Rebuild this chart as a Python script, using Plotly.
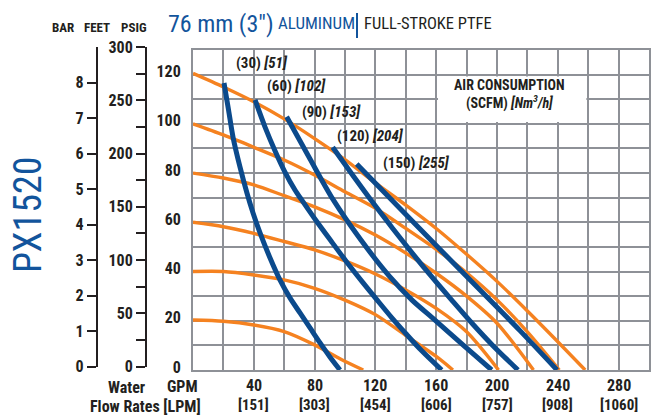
import plotly.graph_objects as go

W, H = 662, 415
NARROW = "Liberation Sans Narrow, Arial Narrow, Roboto Condensed, DejaVu Sans Condensed, sans-serif"
DARK = "#231f20"
BLUE = "#0b4a8c"
TBLUE = "#12549c"
ORANGE = "#f58220"
GRID = "#8e9197"

# ---- axis tick values / labels ----
gpm_ticks = [40, 80, 120, 160, 200, 240, 280]
lpm_labels = ["[151]", "[303]", "[454]", "[606]", "[757]", "[908]", "[1060]"]
psig_ticks = [0, 20, 40, 60, 80, 100, 120]
feet_ticks = [0, 50, 100, 150, 200, 250, 300]
feet_minor = [25, 75, 125, 175, 225, 275]
bar_ticks = [0, 1, 2, 3, 4, 5, 6, 7, 8]

# ---- orange curves: air inlet pressure (psig), flow GPM vs discharge PSIG ----
p20_gpm = [0, 20, 40, 60, 80, 97, 112]
p20_psi = [20.3, 19.8, 18.3, 15.6, 10.2, 4.5, 0]
p40_gpm = [0, 20, 40, 60, 80, 100, 120, 140, 160, 171]
p40_psi = [40, 40, 38.6, 36.6, 33.2, 28.4, 22.5, 14, 5.5, 0]
p60_gpm = [0, 20, 40, 60, 80, 100, 120, 140, 160, 180, 201]
p60_psi = [60, 58.2, 55.5, 52.2, 48.8, 44.3, 39, 32.5, 25, 15.5, 0]
p80_gpm = [0, 20, 40, 60, 80, 100, 120, 140, 160, 180, 200, 224]
p80_psi = [80, 78, 75.2, 70.8, 66.3, 61, 54.8, 47.5, 39.3, 30, 19, 0]
p100_gpm = [0, 20, 40, 60, 80, 100, 120, 140, 160, 180, 200, 220, 241]
p100_psi = [100, 95.5, 90.5, 85.3, 79.2, 72.4, 65.7, 57.5, 49, 39.5, 28.5, 15.5, 0]
p120_gpm = [0, 20, 40, 60, 80, 100, 120, 140, 160, 180, 200, 220, 240, 258]
p120_psi = [120.5, 115, 109, 102, 94, 85.5, 76, 67, 57.5, 47, 36, 24, 11.5, 0]

# ---- blue curves: air consumption (SCFM) ----
c30_gpm = [20.4, 23.4, 26.3, 30.9, 35.5, 39.5, 44.1, 50.7, 57.2, 63.8, 70.4, 77.0, 83.6, 90.1, 96.7]
c30_psi = [116.6, 105.6, 94.7, 82.5, 71.9, 63.8, 55.7, 45.5, 36.6, 29.3, 23.2, 17.1, 11.0, 5.3, 0]
c60_gpm = [40.8, 47.4, 54.0, 60.5, 67.1, 71.5, 81.4, 91.3, 101.1, 111.0, 120.9, 130.7, 140.6, 150.5, 163.6]
c60_psi = [109.7, 98.7, 89.0, 80.4, 73.1, 69.1, 60.3, 52.0, 43.9, 36.1, 28.6, 21.3, 14.4, 7.8, 0]
c90_gpm = [61.6, 77.0, 92.3, 110.5, 129.6, 144.1, 159.2, 177.6, 196.5]
c90_psi = [102.9, 85.7, 69.1, 52.8, 37.8, 28.4, 20.3, 10.2, 0]
c120_gpm = [91.9, 105.1, 118.2, 131.4, 144.5, 157.7, 170.9, 184.0, 197.2, 213.8]
c120_psi = [90.5, 79.1, 68.1, 57.5, 47.3, 37.4, 27.9, 18.7, 10.0, 0]
c150_gpm = [107.7, 136.2, 175.7, 215.1, 239.5]
c150_psi = [83.7, 65.6, 40.7, 16.0, 0]

scfm_values = [30, 60, 90, 120, 150]
nm3h_values = [51, 102, 153, 204, 255]
# label anchor points (GPM, PSIG)
label_gpm = [27.6, 47.8, 71, 94, 124.5]
label_psi = [124.8, 115.4, 104.9, 95, 84]

orange_curves = [(p20_gpm, p20_psi), (p40_gpm, p40_psi), (p60_gpm, p60_psi),
                 (p80_gpm, p80_psi), (p100_gpm, p100_psi), (p120_gpm, p120_psi)]
blue_curves = [(c30_gpm, c30_psi), (c60_gpm, c60_psi), (c90_gpm, c90_psi),
               (c120_gpm, c120_psi), (c150_gpm, c150_psi)]

fig = go.Figure()
for gx, gy in orange_curves:
    fig.add_trace(go.Scatter(x=gx, y=gy, mode="lines", line=dict(color=ORANGE, width=3.4, shape="spline", smoothing=0.8),
                             showlegend=False, hoverinfo="skip"))
for gx, gy in blue_curves:
    fig.add_trace(go.Scatter(x=gx, y=gy, mode="lines", line=dict(color=BLUE, width=5, shape="spline", smoothing=0.8),
                             showlegend=False, hoverinfo="skip"))
# dummy traces to make the free FEET and BAR axes exist
fig.add_trace(go.Scatter(x=[None], y=[None], xaxis="x2", yaxis="y2", showlegend=False, hoverinfo="skip"))
fig.add_trace(go.Scatter(x=[None], y=[None], xaxis="x2", yaxis="y3", showlegend=False, hoverinfo="skip"))


def px(x):
    return x / W


def py(y):
    return 1 - y / H


x0, x1 = 193, 649
y_top, y_bot = 50, 370
side_dom = [py(366.7), py(47)]

fig.update_layout(
    width=W, height=H,
    margin=dict(l=0, r=0, t=0, b=0, pad=0, autoexpand=False),
    paper_bgcolor="white", plot_bgcolor="white",
    showlegend=False,
    xaxis=dict(domain=[px(x0), px(x1)], range=[0, 300], dtick=20, tick0=0,
               showgrid=True, gridcolor=GRID, gridwidth=2,
               showline=True, mirror=True, linecolor=GRID, linewidth=2,
               showticklabels=False, ticks="", zeroline=False, fixedrange=True, automargin=False),
    yaxis=dict(domain=[py(y_bot), py(y_top)], range=[0, 130],
               tickvals=psig_ticks, ticktext=[f"<b>{v}</b>" for v in psig_ticks],
               showgrid=True, gridcolor=GRID, gridwidth=2,
               minor=dict(dtick=10, tick0=0, showgrid=True, gridcolor=GRID, gridwidth=2, ticks=""),
               showline=True, mirror=True, linecolor=GRID, linewidth=2,
               ticks="", ticklabelstandoff=7, ticklabelshift=-3, automargin=False,
               tickfont=dict(family=NARROW, size=16, color=DARK), zeroline=False, fixedrange=True),
    xaxis2=dict(domain=[0, 0.01], visible=False, anchor="y2", range=[0, 1], automargin=False),
    yaxis2=dict(domain=side_dom, range=[0, 300], anchor="free", position=px(146), side="left",
                tickvals=feet_ticks, ticktext=[f"<b>{v}</b>" for v in feet_ticks],
                ticks="outside", ticklen=9, tickwidth=2, tickcolor=DARK,
                minor=dict(tickvals=feet_minor, ticks="outside", ticklen=9, tickwidth=2, tickcolor=DARK, showgrid=False),
                showline=True, linecolor=DARK, linewidth=2, showgrid=False, zeroline=False, automargin=False,
                tickfont=dict(family=NARROW, size=16, color=DARK), fixedrange=True),
    yaxis3=dict(domain=side_dom, range=[0, 9.0], anchor="free", position=px(96.7), side="left",
                tickvals=bar_ticks, ticktext=[f"<b>{v}</b>" for v in bar_ticks],
                ticks="outside", ticklen=9, tickwidth=2, tickcolor=DARK,
                showline=True, linecolor=DARK, linewidth=2, showgrid=False, zeroline=False, automargin=False,
                tickfont=dict(family=NARROW, size=16, color=DARK), fixedrange=True),
)

annotations = []


def add_ann(text, x, y, size, color=DARK, xanchor="center", yanchor="middle",
            xref="paper", yref="paper", family=NARROW, textangle=0):
    annotations.append(dict(text=text, x=x, y=y, xref=xref, yref=yref, showarrow=False,
                            xanchor=xanchor, yanchor=yanchor, textangle=textangle, borderpad=0,
                            font=dict(family=family, size=size, color=color)))


# headers
add_ann("<b>BAR</b>", px(63), py(28), 13)
add_ann("<b>FEET</b>", px(96.5), py(28), 13)
add_ann("<b>PSIG</b>", px(134), py(28), 13)

# title
add_ann('76 mm (3")', px(167), py(24), 24, color=TBLUE, xanchor="left")
add_ann("ALUMINUM", px(277), py(23.5), 17, color=TBLUE, xanchor="left")
add_ann("FULL-STROKE PTFE", px(363), py(23.5), 16.5, color=DARK, xanchor="left")

# model name
add_ann("PX1520", px(28), py(215), 38, color=TBLUE, textangle=-90)

# bottom labels
add_ann("<b>Water</b>", px(126), py(387), 16)
add_ann("<b>GPM</b>", px(182), py(386), 16)
add_ann("<b>Flow Rates [LPM]</b>", px(145), py(406), 16)
for g, l in zip(gpm_ticks, lpm_labels):
    add_ann(f"<b>{g}</b>", g, py(385), 16, xref="x")
    add_ann(f"<b>{l}</b>", g, py(405), 15, xref="x")

# curve labels
for s, n, gx, gy in zip(scfm_values, nm3h_values, label_gpm, label_psi):
    add_ann(f"<b>({s}) <i>[{n}]</i></b>", gx, gy, 15, xanchor="left", xref="x", yref="y")

# air consumption legend
add_ann("<b>AIR CONSUMPTION</b><br><b>(SCFM) <i>[Nm<sup>3</sup>/h]</i></b>", 208.5, 111.8, 14, xref="x", yref="y")

fig.update_layout(annotations=annotations)

shapes = [
    # white box behind legend text (covers grid)
    dict(type="rect", xref="x", yref="y", x0=161.2, x1=258.8, y0=100.8, y1=119.2,
         fillcolor="white", line=dict(width=0), layer="between"),
    # vertical separator in title
    dict(type="line", xref="paper", yref="paper", x0=px(357), x1=px(357), y0=py(13), y1=py(38),
         line=dict(color=TBLUE, width=2)),
]
fig.update_layout(shapes=shapes)

fig.write_html("out.html", config={"displayModeBar": False},
               post_script="document.body.style.margin='0';")
